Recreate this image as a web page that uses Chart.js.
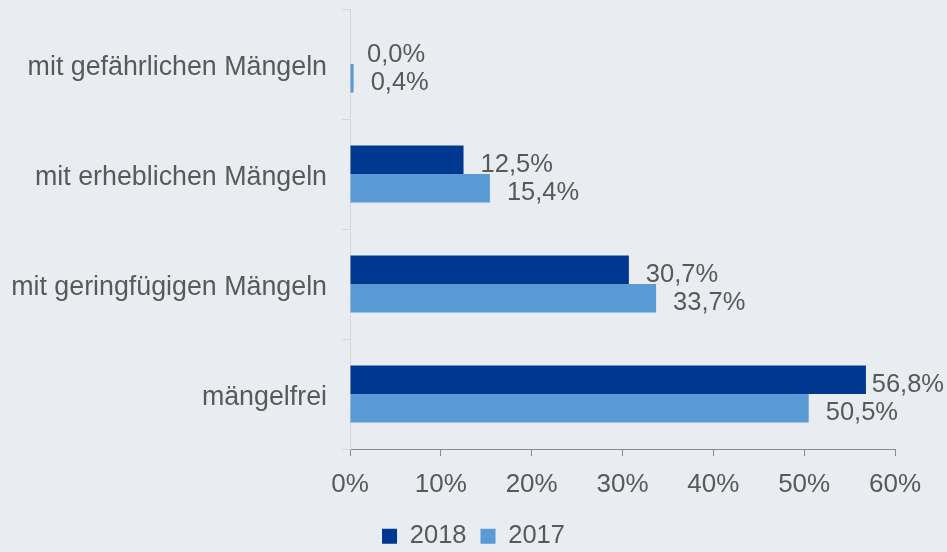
<!DOCTYPE html>
<html lang="de">
<head>
  <meta charset="UTF-8">
  <title>Prüfergebnisse 2018 / 2017</title>
  <script src="https://cdn.jsdelivr.net/npm/chart.js"></script>
  <style>
    html, body { margin: 0; padding: 0; background: #e9edf1; }
    #wrap { width: 947px; height: 552px; }
  </style>
</head>
<body>
  <div id="wrap"><canvas id="chart"></canvas></div>

  <script>
    // Data (percent)
    var categories = ['mit gefährlichen Mängeln', 'mit erheblichen Mängeln', 'mit geringfügigen Mängeln', 'mängelfrei'];
    var values2018 = [0.0, 12.5, 30.7, 56.8];
    var values2017 = [0.4, 15.4, 33.7, 50.5];
    var xTicks = [0, 10, 20, 30, 40, 50, 60];

    var textColor = '#595959';
    var fontFamily = '"Liberation Sans", Arial, sans-serif';

    function fmt(v) {
      return v.toFixed(1).replace('.', ',') + '%';
    }

    // draws the value next to the end of each bar, kept inside the canvas
    var valueLabels = {
      id: 'valueLabels',
      afterDatasetsDraw: function(chart) {
        var ctx = chart.ctx;
        ctx.save();
        ctx.font = '25.5px ' + fontFamily;
        ctx.fillStyle = textColor;
        ctx.textAlign = 'left';
        ctx.textBaseline = 'middle';
        chart.data.datasets.forEach(function(ds, i) {
          var meta = chart.getDatasetMeta(i);
          meta.data.forEach(function(bar, j) {
            var txt = fmt(ds.data[j]);
            var w = ctx.measureText(txt).width;
            var x = Math.min(bar.x + 17, chart.width - w - 3);
            ctx.fillText(txt, x, bar.y + 5);
          });
        });
        ctx.restore();
      }
    };

    new Chart(document.getElementById('chart'), {
      type: 'bar',
      data: {
        labels: categories,
        datasets: [{
          label: '2018',
          data: values2018,
          backgroundColor: '#003891',
          categoryPercentage: 0.52,
          barPercentage: 1.0
        }, {
          label: '2017',
          data: values2017,
          backgroundColor: '#5b9bd5',
          categoryPercentage: 0.52,
          barPercentage: 1.0
        }]
      },
      options: {
        indexAxis: 'y',
        responsive: true,
        maintainAspectRatio: false,
        animation: false,
        layout: { padding: { top: 9, right: 0, left: 0, bottom: 0 } },
        plugins: {
          legend: {
            position: 'bottom',
            maxHeight: 42.5,
            labels: {
              boxWidth: 15,
              boxHeight: 15,
              padding: 14,
              color: textColor,
              font: { family: fontFamily, size: 25.5 }
            }
          },
          tooltip: { enabled: false }
        },
        scales: {
          x: {
            min: 0,
            max: 60,
            afterBuildTicks: function(scale) {
              scale.ticks = xTicks.map(function(v) { return { value: v }; });
            },
            afterFit: function(scale) {
              scale.height = 60.5;
              scale.paddingLeft = 0;
              scale.paddingRight = 52;
            },
            ticks: {
              padding: 13,
              color: textColor,
              font: { family: fontFamily, size: 26 },
              callback: function(v) { return v + '%'; }
            },
            grid: { drawOnChartArea: false, drawTicks: true, tickLength: 7, color: '#898989' },
            border: { display: true, color: '#898989' }
          },
          y: {
            afterFit: function(scale) {
              scale.width = 350;
              scale.paddingTop = 0;
              scale.paddingBottom = 0;
            },
            ticks: {
              padding: 15,
              labelOffset: 4,
              color: textColor,
              font: { family: fontFamily, size: 26.8 }
            },
            grid: { offset: true, drawOnChartArea: false, drawTicks: true, tickLength: 8, color: '#d9d9d9' },
            border: { display: true, color: '#d9d9d9' }
          }
        }
      },
      plugins: [valueLabels]
    });
  </script>
</body>
</html>
